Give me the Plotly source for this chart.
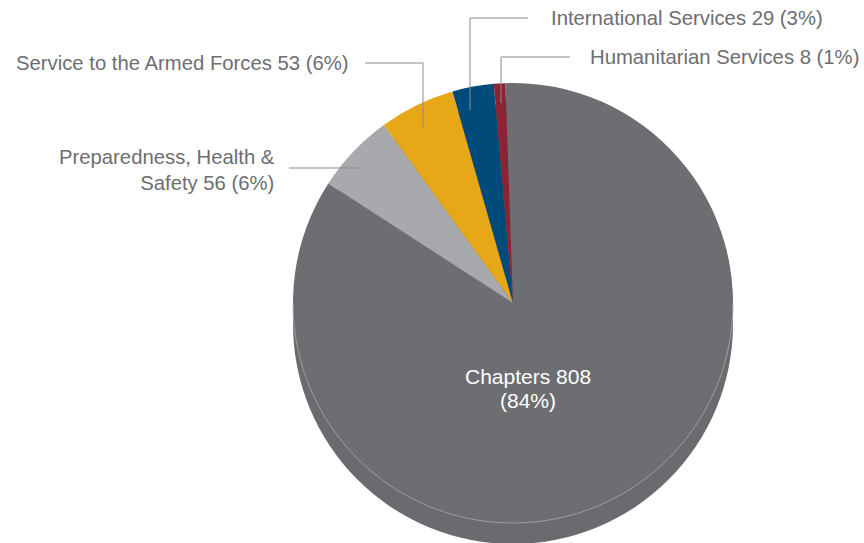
import plotly.graph_objects as go

categories = ["Chapters", "Preparedness, Health & Safety", "Service to the Armed Forces",
              "International Services", "Humanitarian Services"]
values = [808, 56, 53, 29, 8]
pct_labels = ["84%", "6%", "6%", "3%", "1%"]
colors = ["#6d6e71", "#a7a9ac", "#e6a817", "#004b7a", "#8b2332"]

W, H = 864, 543
TXT = "#6d6e71"
LINE = "#8a8b8d"
FONT = "Liberation Sans, Arial, Helvetica, sans-serif"

def px(x):
    return x / W

def py(y):
    return 1 - y / H

cx, cy, r = 513, 303, 220
depth = 21

fig = go.Figure()
fig.add_trace(go.Pie(
    labels=categories, values=values, sort=False, direction="clockwise",
    rotation=-2,
    marker=dict(colors=colors, line=dict(width=0)),
    textinfo="none",
    domain=dict(x=[px(cx - r), px(cx + r)], y=[py(cy + r), py(cy - r)]),
    showlegend=False, hoverinfo="label+value+percent",
))

shapes = [
    # extrusion (3D depth) of the pie
    dict(type="circle", xref="paper", yref="paper", layer="below",
         x0=px(cx - r), x1=px(cx + r), y0=py(cy + r + depth), y1=py(cy - r + depth),
         fillcolor="#6a6b6e", line=dict(width=0)),
]

# faint rim line along the lower edge of the top face (bezier approximation of arc)
k = 0.5523 * r
path = (f"M {px(cx - r)},{py(cy)} "
        f"C {px(cx - r)},{py(cy + k)} {px(cx - k)},{py(cy + r)} {px(cx)},{py(cy + r)} "
        f"C {px(cx + k)},{py(cy + r)} {px(cx + r)},{py(cy + k)} {px(cx + r)},{py(cy)}")
shapes.append(dict(type="path", xref="paper", yref="paper", layer="above", path=path,
                   line=dict(color="#a9aaac", width=0.8)))

def seg(x0, y0, x1, y1):
    shapes.append(dict(type="line", xref="paper", yref="paper",
                       x0=px(x0), y0=py(y0), x1=px(x1), y1=py(y1),
                       line=dict(color=LINE, width=1)))

# leader lines
seg(289, 168, 359, 168)                     # Preparedness
seg(365, 63, 423, 63); seg(423, 63, 423, 128)   # Armed Forces
seg(470, 18, 528, 18); seg(470, 18, 470, 110)   # International
seg(501, 57, 570, 57); seg(501, 57, 501, 103)   # Humanitarian

ann = [
    dict(x=px(277), y=py(170), xanchor="right", yanchor="middle", align="right",
         text=f"Preparedness, Health &<br>Safety {values[1]} ({pct_labels[1]})"),
    dict(x=px(351), y=py(63), xanchor="right", yanchor="middle", align="right",
         text=f"{categories[2]} {values[2]} ({pct_labels[2]})"),
    dict(x=px(549), y=py(18), xanchor="left", yanchor="middle", align="left",
         text=f"{categories[3]} {values[3]} ({pct_labels[3]})"),
    dict(x=px(861), y=py(57), xanchor="right", yanchor="middle", align="right",
         text=f"{categories[4]} {values[4]} ({pct_labels[4]})"),
]
for a in ann:
    a.update(xref="paper", yref="paper", showarrow=False,
             font=dict(color=TXT, size=20.3, family=FONT))

# label inside the largest slice
for txt, yy in [(f"{categories[0]} {values[0]}", 376), (f"({pct_labels[0]})", 400)]:
    ann.append(dict(x=px(528), y=py(yy), xref="paper", yref="paper",
                    xanchor="center", yanchor="middle", showarrow=False, text=txt,
                    font=dict(color="white", size=21, family=FONT)))

fig.update_layout(
    width=W, height=H, margin=dict(l=0, r=0, t=0, b=0),
    paper_bgcolor="white", plot_bgcolor="white",
    shapes=shapes, annotations=ann,
)

fig.write_html("out.html", config={"displayModeBar": False},
               post_script="document.body.style.margin='0';document.body.style.overflow='hidden';")
